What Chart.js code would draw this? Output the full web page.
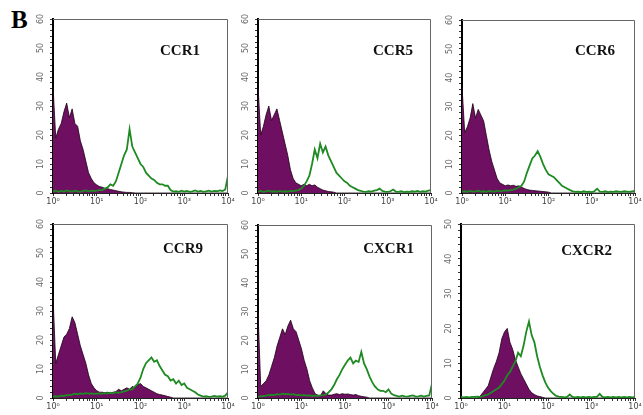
<!DOCTYPE html>
<html>
<head>
<meta charset="utf-8">
<script src="https://cdn.jsdelivr.net/npm/chart.js@4.4.1/dist/chart.umd.min.js"></script>
<style>
  body { margin: 0; background: #fff; width: 643px; height: 415px; position: relative; overflow: hidden; }
  canvas { position: absolute; }
  #fig { position: absolute; left: 11px; top: 7px; font: bold 25px "Liberation Serif", serif; line-height: 25px; }
</style>
</head>
<body>
<div id="fig">B</div>
<script>
// 64 bins per histogram, 1/16 decade each, from 10^0 to 10^4
const xTickLabels = ['10\u2070', '10\u00b9', '10\u00b2', '10\u00b3', '10\u2074'];

// isotype control (purple, filled)
const ccr1Iso = [37,19,22,24,28,31,26,29,24,23, 18,15,11,7,5,3.5,2.8,2.2,2,1.6,
  1.5,1.2,1,0.8,0.6,0.4,0.3,0.2,0.2,0.1, 0,0,0,0,0,0,0,0,0,0,
  0,0,0,0,0,0,0,0,0,0, 0,0,0,0,0,0,0,0,0,0, 0,0,0,0,0];
const ccr5Iso = [37,20,23,27,30,25,27,29,25,21, 17,13,8,5,3.5,3,2.5,3,2.5,3,
  2.5,2.8,2,1.5,1,0.8,0.5,0.4,0.3, 0,0,0,0,0,0,0,0,0,0,0,
  0,0,0,0,0,0,0,0,0,0, 0,0,0,0,0,0,0,0,0,0, 0,0,0,0,0];
const ccr6Iso = [37,21,23,26,31,26,29,27,25,20, 15,11,8,5,3.5,3,2.5,2.8,2.5,2.7,
  2.3,2.5,2,1.6,1.2,1,0.9,0.8,0.7,0.6, 0.5,0.4,0.3, 0,0,0,0,0,0,0,
  0,0,0,0,0,0,0,0,0,0, 0,0,0,0,0,0,0,0,0,0, 0,0,0,0,0];
const ccr9Iso = [35,12,15,18,21,22,24,28,26,22, 18,15,12,8,5,3.5,2.5,2,2,1.8,
  2,1.7,2,2.2,3,2.5,3,3.5,3,4, 3.5,4.5,5,4,3.5,3,2.5,2,1.5,1.2,
  1,0.8,0.5,0.3, 0,0,0,0,0,0, 0,0,0,0,0,0,0,0,0,0, 0,0,0,0,0];
const cxcr1Iso = [30,4,5,6,8,11,14,18,21,24, 22,25,27,24,23,20,17,13,10,6,
  3.5,1.5,1,0.8,2.5,1.5,1,1,1.3,1.5, 1.2,1.5,1.3,1.4,1.2,1,1.2,0.8,0.6,0.4,
  0.3, 0,0,0,0,0,0,0,0,0, 0,0,0,0,0,0,0,0,0,0, 0,0,0,0,0];
const cxcr2Iso = [0,0,0,0,0,0,0,0.5,1.5,2.5, 3.5,6,8.5,10.5,13,17,19,20,16,14,
  11,9,7,5.5,4,2.5,1.5,1,0.6,0.4, 0.2, 0,0,0,0,0,0,0,0,0,
  0,0,0,0,0,0,0,0,0,0, 0,0,0,0,0,0,0,0,0,0, 0,0,0,0,0];

// specific antibody (green line)
const ccr1Ab = [0.5,0.8,0.4,0.7,0.5,0.9,0.6,0.5,0.8,0.6, 0.4,0.7,0.9,0.6,0.8,0.7,
  0.8,1,1,1.5,2,3,2.5,4,7,10, 13,15,22,16,14,12,10,9,7,6, 5,4.5,3.5,3,3,2.5,2.5,1,0.5,
  0.6,0.4,0.8,0.5,0.7,0.4,0.6,0.9,0.5,0.7, 0.4,0.6,0.8,0.5,0.7,0.6,0.9,0.7,1.2, 6];
const ccr5Ab = [0.5,0.7,0.4,0.6,0.8,0.5,0.6,0.4,0.7,0.5, 0.6,0.5,0.7,0.6,
  0.8,1,1.5,2.5,4,6,10,15,12,17, 14,16,13,11,9,7,6,5,4,3.5, 2.5,2,1.5,1,0.7,0.5,
  0.4,0.6,0.5,0.8,1,1.5,0.7,0.5,0.4,0.6, 1.2,0.5,0.4,0.6,0.3,0.5,0.4,0.6,0.5,0.7, 0.4,0.6,0.5,0.8,1];
const ccr6Ab = [0.5,0.6,0.4,0.7,0.5,0.6,0.8,0.5,0.6,0.4, 0.7,0.6,0.5,0.8,0.6,0.7,0.9,0.8,
  1,1.2,1.5,2,2.5,4,7,9.5,12,13, 14.5,12.5,10,8,6.5,6,5.5,4.5,3.5,2.5, 2,1.5,1,0.6,
  0.4,0.5,0.3,0.6,0.4,0.5,0.3,0.6,1.5,0.5, 0.4,0.6,0.3,0.5,0.4,0.6,0.5,0.4,0.6,0.5, 0.4,0.6,0.8];
const ccr9Ab = [0.5,0.6,0.5,0.8,0.7,1,1,1.2,1.5,1.3, 1.6,1.4,1.7,1.5,1.6,1.4,1.5,1.6,1.5,1.7,
  1.6,1.8,1.6,2,1.8,
  2,2.3,2.5,3,3,4,5,7,10,12, 13,14,12.5,13,11,9.5,8,7.5,6,6.5, 5,6,4.5,5,3.5,3,2.5,2,1.2,0.8,
  0.5,0.6,0.4,0.5,0.7,0.5,0.6,0.5,0.8,2];
const cxcr1Ab = [0.5,0.6,0.7,0.8,1,1.1,1,1.3,1.2,1.5, 1.3,1.4,1.2,1.3,1,1.1,0.9,1,0.8,0.9,
  0.7,0.8,0.7,0.9,1,
  1.2,2,3,4.5,6.5,8,10,11.5,13,14, 12,13,12.5,16,12,10,7.5,5.5,4,3, 2.5,2.5,2,3,1.5,1,
  0.7,0.5,0.8,0.6,0.5,0.7,0.9,0.5,0.6,0.8, 0.5,0.7,0.9,5];
const cxcr2Ab = [0.3,0.2,0.3,0.2,0.3,0.3,0.4,0.3,
  0.5,0.8,1,1.5,2,2.5,3,4,5,6.5, 7.5,9,10.5,13,12,15,19,22,18,16, 12,9,6.5,4.5,3,2,1.2,0.6,0.4,
  0.3,0.2,0.3,1,0.3,0.2,0.3,0.2,0.3,0.2, 0.3,0.2,0.3,0.3,1.2,0.3,0.2,0.3,0.2,0.3, 0.2,0.3,0.2,0.3,0.2,0.3,0.2,0.3];

const panels = [
  { name: 'CCR1',  yMax: 60, iso: ccr1Iso,  ab: ccr1Ab,  box: [53, 19, 175, 174],  tx: 28, ty: 36 },
  { name: 'CCR5',  yMax: 60, iso: ccr5Iso,  ab: ccr5Ab,  box: [258, 19, 173, 174], tx: 18, ty: 36 },
  { name: 'CCR6',  yMax: 60, iso: ccr6Iso,  ab: ccr6Ab,  box: [462, 20, 173, 173], tx: 20, ty: 35 },
  { name: 'CCR9',  yMax: 60, iso: ccr9Iso,  ab: ccr9Ab,  box: [53, 224, 175, 174], tx: 25, ty: 29 },
  { name: 'CXCR1', yMax: 60, iso: cxcr1Iso, ab: cxcr1Ab, box: [258, 225, 174, 173], tx: 18, ty: 28 },
  { name: 'CXCR2', yMax: 50, iso: cxcr2Iso, ab: cxcr2Ab, box: [461, 224, 174, 174], tx: 23, ty: 31 }
];

// log-decade minor tick positions
const xTickPos = [];
for (let k = 0; k < 4; k++) {
  for (let m = 1; m < 10; m++) xTickPos.push(k + Math.log10(m));
}
xTickPos.push(4);

const toPoints = arr => arr.map((v, i) => ({ x: i / 16, y: v }));

// frame, rotated y labels and marker name
const panelDecor = {
  id: 'panelDecor',
  afterDraw(chart, args, opts) {
    const { ctx, chartArea } = chart;
    const { left, top, right, bottom } = chartArea;
    ctx.save();
    ctx.strokeStyle = '#666';
    ctx.lineWidth = 1;
    ctx.beginPath();
    ctx.moveTo(left, top + 0.5);
    ctx.lineTo(right - 0.5, top + 0.5);
    ctx.lineTo(right - 0.5, bottom);
    ctx.stroke();

    ctx.fillStyle = '#666';
    ctx.font = '8px "DejaVu Sans"';
    ctx.textAlign = 'center';
    ctx.textBaseline = 'middle';
    for (let v = 0; v <= opts.yMax; v += 10) {
      const y = chart.scales.y.getPixelForValue(v);
      ctx.save();
      ctx.translate(left - 12, y);
      ctx.rotate(-Math.PI / 2);
      ctx.fillText(String(v), 0, 0);
      ctx.restore();
    }

    ctx.fillStyle = '#111';
    ctx.font = 'bold 15px "Liberation Serif"';
    ctx.textAlign = 'right';
    ctx.textBaseline = 'alphabetic';
    ctx.fillText(opts.title, right - opts.tx, top + opts.ty);
    ctx.restore();
  }
};

panels.forEach(p => {
  const [L, T, W, H] = p.box;
  const canvas = document.createElement('canvas');
  canvas.width = W + 36;
  canvas.height = H + 24;
  canvas.style.left = (L - 28) + 'px';
  canvas.style.top = (T - 6) + 'px';
  document.body.appendChild(canvas);

  new Chart(canvas.getContext('2d'), {
    type: 'line',
    data: {
      datasets: [
        {
          data: toPoints(p.ab),
          borderColor: '#1e8a22',
          borderWidth: 1.8,
          fill: false,
          pointRadius: 0,
          tension: 0,
          order: 0
        },
        {
          data: toPoints(p.iso),
          borderColor: '#1a0014',
          borderWidth: 0.8,
          backgroundColor: '#6e0f62',
          fill: 'origin',
          pointRadius: 0,
          tension: 0,
          order: 1
        }
      ]
    },
    options: {
      responsive: false,
      animation: false,
      layout: { padding: { left: 0, top: 6, right: 8, bottom: 0 } },
      plugins: {
        legend: { display: false },
        tooltip: { enabled: false },
        panelDecor: { title: p.name, yMax: p.yMax, tx: p.tx, ty: p.ty }
      },
      scales: {
        x: {
          type: 'linear',
          min: 0,
          max: 4,
          afterBuildTicks: s => { s.ticks = xTickPos.map(v => ({ value: v })); },
          afterFit: s => { s.height = 18; s.paddingLeft = 0; s.paddingRight = 0; },
          ticks: {
            autoSkip: false,
            maxRotation: 0,
            padding: 1,
            color: '#444',
            font: { family: 'DejaVu Sans', size: 8 },
            callback: v => Number.isInteger(v) ? xTickLabels[v] : ''
          },
          grid: { drawOnChartArea: false, tickLength: 3, color: '#333' },
          border: { color: '#222', width: 1 }
        },
        y: {
          min: 0,
          max: p.yMax,
          afterFit: s => { s.width = 28; s.paddingTop = 0; s.paddingBottom = 0; },
          ticks: { stepSize: 2, display: false },
          grid: { drawOnChartArea: false, tickLength: 3, color: '#333' },
          border: { color: '#000', width: 2 }
        }
      }
    },
    plugins: [panelDecor]
  });
});
</script>
</body>
</html>
